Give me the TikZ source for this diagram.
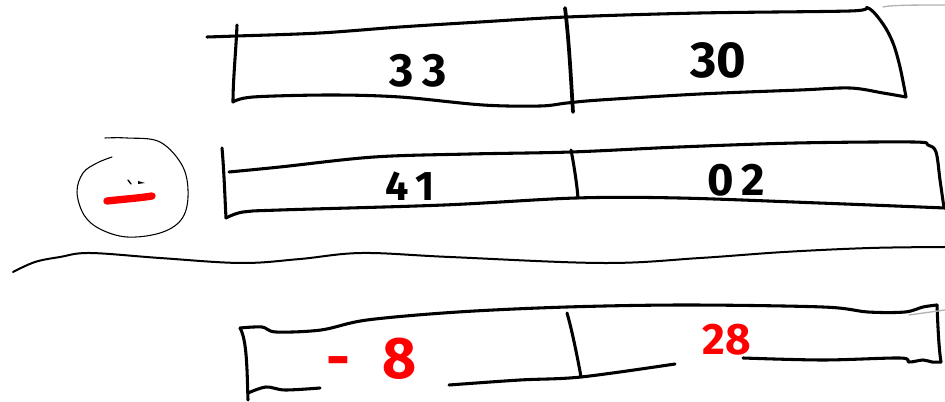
\documentclass[tikz,border=0pt]{standalone}
\usepackage{fontspec}
\setmainfont{Fira Sans}
\begin{document}
\begin{tikzpicture}[x=0.75pt,y=-0.75pt, line cap=round, line join=round,
  ink/.style={draw=black, line width=2.3pt},
  bar/.style={draw=black, line width=2.8pt},
  rule/.style={draw=black, line width=1.5pt},
  pen/.style={draw=black, line width=0.8pt},
  faint/.style={draw=black!30, line width=1pt},
  marker/.style={draw=red, line width=5.5pt},
  digit/.style={inner sep=0pt, font=\bfseries\fontsize{#1}{#1}\selectfont},
  digit/.default=34,
  reddigit/.style={digit=#1, text=red},
  reddigit/.default=34]
\useasboundingbox (0,0) rectangle (945,402);

% ---------- top row ----------
\draw[ink] plot[smooth, tension=0.55] coordinates {(207,37) (237,36) (320,33) (400,27) (480,22) (567,17) (700,13) (850,11) (868,8) (883,24) (893,43) (900,67) (906,97)};
\draw[ink] plot[smooth, tension=0.55] coordinates {(233,102) (253,97) (330,95) (400,97) (483,105) (540,106) (567,103) (600,100) (700,94) (800,90) (850,88) (883,93) (906,97)};
\draw[ink] (237,25) .. controls (236,50) and (233,80) .. (233,102);
\draw[bar] (565,8) .. controls (569,40) and (571,80) .. (573,112);
\draw[faint] (883,7) .. controls (890,5) and (920,5) .. (945,5);
\node[digit=35] (n33) at (418,71) {3\kern7pt3};
\node[digit=38] (n30) at (718,60) {30};

% ---------- middle row ----------
\draw[ink] (222,148) .. controls (224,170) and (225,200) .. (226,218);
\draw[ink] plot[smooth, tension=0.55] coordinates {(229,172) (280,167) (374,157) (470,154) (571,152) (679,147) (796,143) (913,142) (928,145) (936,152) (940,180) (944,208)};
\draw[ink] plot[smooth, tension=0.55] coordinates {(226,218) (243,212) (280,210) (444,205) (576,198) (679,198) (819,203) (945,208)};
\draw[ink] (571,150) .. controls (574,165) and (577,185) .. (578,198);
\node[digit=31] (n41) at (410,186) {4\kern5pt1};
\node[digit=34] (n02) at (736,180) {0\kern6pt2};

% ---------- circle with minus ----------
\draw[pen] plot[smooth, tension=0.6] coordinates {(105,138) (127,138) (160,142) (183,167) (188,197) (181,220) (160,233) (127,237) (100,229) (84,215) (77,192) (83,173) (97,163) (112,157)};
\draw[marker] (107,201) .. controls (125,199) and (140,198) .. (152,196);
\draw[draw=black, line width=1pt] (128,180) -- (131,184);
\fill[black] (138,181) -- (145,183) -- (138,184) -- cycle;

% ---------- rule ----------
\draw[rule] plot[smooth, tension=0.6] coordinates {(13,272) (35,262) (60,257) (90,253) (160,258) (241,263) (300,259) (362,253) (450,257) (603,263) (700,258) (784,252) (870,248) (945,247)};

% ---------- bottom row ----------
\draw[ink] plot[smooth, tension=0.55] coordinates {(240,328) (262,327) (276,332) (321,330) (367,320) (458,312) (567,307) (686,305) (823,307) (868,312) (905,312) (923,307) (937,305)};
\draw[ink] (937,305) .. controls (938,330) and (939,350) .. (941,362);
\draw[ink] (240,328) .. controls (247,340) and (247,370) .. (248,400);
\draw[ink] plot[smooth, tension=0.55] coordinates {(248,393) (266,387) (285,390) (320,388)};
\draw[ink] plot[smooth, tension=0.55] coordinates {(449,385) (520,380) (581,377) (675,364)};
\draw[ink] plot[smooth, tension=0.55] coordinates {(743,358) (823,360) (900,358) (909,362) (923,360) (932,362) (941,362)};
\draw[faint] (909,315) -- (945,310);
\draw[ink] (567,313) .. controls (572,330) and (578,360) .. (581,377);
\node[reddigit=44, anchor=base west] (nm8) at (326,378) {-\hspace{0.55em}8};
\node[reddigit=33] (n28) at (727,340) {28};
\end{tikzpicture}
\end{document}
